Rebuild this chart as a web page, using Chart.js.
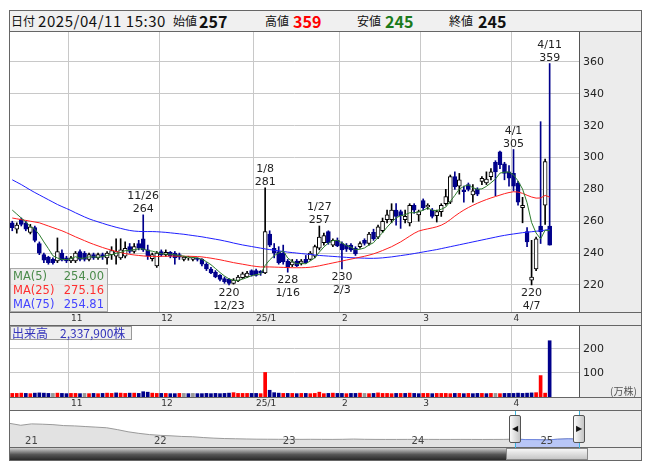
<!DOCTYPE html>
<html>
<head>
<meta charset="utf-8">
<script src="https://cdn.jsdelivr.net/npm/chart.js@4.4.1/dist/chart.umd.min.js"></script>
<style>
  body { margin: 0; background: #fff; }
  #stage { position: relative; width: 653px; height: 470px; overflow: hidden; }
  .abs { position: absolute; box-sizing: border-box; }
  #frame { left: 9px; top: 10px; width: 633px; height: 451px; background: #ececec; border: 1px solid #666; }
  #head { left: 9px; top: 10px; width: 633px; height: 22px; background: #f0f0f0; border: 1px solid #666;
          font-family: "Noto Sans CJK JP", sans-serif; font-size: 12px; color: #111; }
  #head span { position: absolute; top: 0; line-height: 20px; white-space: nowrap; }
  #head .date { font-size: 15px; letter-spacing: 0.55px; }
  #head .num { font-weight: bold; font-size: 16px; }
  canvas { position: absolute; }
  .hline { position: absolute; left: 9px; width: 633px; height: 1px; background: #666; }
  .vline { position: absolute; width: 1px; background: #555; }
  #maBox { left: 10px; top: 268px; width: 98px; height: 44px; background: rgba(234,234,234,0.85);
           border: 1px solid #aaa; font: 11.5px "DejaVu Sans", sans-serif; }
  #maBox div { position: relative; height: 14px; line-height: 14px; padding-left: 2px; }
  #maBox div span { position: absolute; right: 3px; }
  #volBox { left: 10px; top: 326px; width: 122px; height: 14px; background: #eeeeee; border: 1px solid #999;
            font: 12px "Noto Sans CJK JP", sans-serif; line-height: 12px; color: #3333bb; padding-left: 1px; white-space: nowrap; }
  #unit { left: 610px; top: 383px; font: 10px "Noto Sans CJK JP", sans-serif; color: #555; }
  .handle { top: 415px; width: 12px; height: 28px; border: 1px solid #555; border-radius: 2px;
            background: linear-gradient(to right, #fafafa, #c4c4c4); font-size: 8px; line-height: 26px;
            text-align: center; color: #111; }
  .cyan { top: 411px; width: 1px; height: 37px; background: #3cb4dc; }
  #track { left: 10px; top: 448px; width: 496px; height: 12px; background: linear-gradient(#d0d0d0, #555 55%, #2a2a2a); }
  #thumb { left: 506px; top: 448px; width: 82px; height: 12px; border: 1px solid #888;
           background: linear-gradient(#f6f6f6, #c6c6c6); }
</style>
</head>
<body>
<div id="stage">
  <div id="frame" class="abs"></div>
  <div id="head" class="abs">
    <span style="left:1px">日付</span><span class="date" style="left:28px">2025/04/11 15:30</span>
    <span style="left:163px">始値</span><span class="num" style="left:189px">257</span>
    <span style="left:255px">高値</span><span class="num" style="left:283px;color:#ff0000">359</span>
    <span style="left:347px">安値</span><span class="num" style="left:375px;color:#1a7a1a">245</span>
    <span style="left:439px">終値</span><span class="num" style="left:468px">245</span>
  </div>

  <canvas id="priceChart" width="631" height="293" style="left:10px;top:32px"></canvas>
  <canvas id="volChart" width="631" height="84" style="left:10px;top:326px"></canvas>
  <canvas id="navChart" width="631" height="36" style="left:10px;top:411px"></canvas>

  <div class="hline" style="top:312px"></div>
  <div class="hline" style="top:325px"></div>
  <div class="hline" style="top:397px"></div>
  <div class="hline" style="top:410px"></div>
  <div class="hline" style="top:447px"></div>
  <div class="vline" style="left:579px;top:32px;height:280px"></div>
  <div class="vline" style="left:579px;top:326px;height:71px"></div>
  <div class="vline" style="left:579px;top:411px;height:36px"></div>

  <div id="maBox" class="abs">
    <div style="color:#4b8b4b">MA(5)<span>254.00</span></div>
    <div style="color:#ff3030">MA(25)<span>275.16</span></div>
    <div style="color:#4444ff">MA(75)<span>254.81</span></div>
  </div>
  <div id="volBox" class="abs">出来高　2,337,900株</div>
  <div id="unit" class="abs">(万株)</div>

  <div class="abs cyan" style="left:515px"></div>
  <div class="abs cyan" style="left:579px"></div>
  <div class="abs handle" style="left:509px">&#9664;</div>
  <div class="abs handle" style="left:573px">&#9654;</div>
  <div id="track" class="abs"></div>
  <div id="thumb" class="abs"></div>
</div>

<script>
const dates = [
  "10/15","10/16","10/17","10/18","10/21","10/22","10/23","10/24","10/25","10/28","10/29","10/30","10/31",
  "11/1","11/5","11/6","11/7","11/8","11/11","11/12","11/13","11/14","11/15","11/18","11/19","11/20","11/21","11/22","11/25","11/26","11/27","11/28","11/29",
  "12/2","12/3","12/4","12/5","12/6","12/9","12/10","12/11","12/12","12/13","12/16","12/17","12/18","12/19","12/20","12/23","12/24","12/25","12/26","12/27","12/30",
  "1/6","1/7","1/8","1/9","1/10","1/14","1/15","1/16","1/17","1/20","1/21","1/22","1/23","1/24","1/27","1/28","1/29","1/30","1/31",
  "2/3","2/4","2/5","2/6","2/7","2/10","2/12","2/13","2/14","2/17","2/18","2/19","2/20","2/21","2/25","2/26","2/27","2/28",
  "3/3","3/4","3/5","3/6","3/7","3/10","3/11","3/12","3/13","3/14","3/17","3/18","3/19","3/21","3/24","3/25","3/26","3/27","3/28","3/31",
  "4/1","4/2","4/3","4/4","4/7","4/8","4/9","4/10","4/11"
];

const opens = [
  259,255,261,259,253,256,246,239,237.5,236,235,240,237,
  235,235,241,240,236,239,237,239,237,239,238,237,238,244,241,246,249,242,236.5,232,
  241,239,240.5,240,239,236,237,236,236.5,236,233,230,228,226,224,223.5,221,222.5,224.5,225,229,
  229,228.5,227.5,252,243,241,240,235,232.5,235,233.5,236,236,238,243,246.5,253.5,245,248,
  246,245,245,243,244,248,246,253,250,254,261,261,267,266,261,259,270,264,
  273,269,267,263.5,266,271,272,288,282,279.5,283,276.5,280,285,284,288,297,303.5,296,291,
  290,284,268.5,253.5,223,230,257,270,257
];
const highs = [
  260,259,262,260,258,257,247,240,238,237,249.5,242,238,
  238,241,242,241,240,240,240,240,241,244,249,249,247,246,246,248,264,245,240,241,
  242,242,241,241,240,238,238,237.5,237,236.5,234,231,229,226.5,225,224,224,226,228,228.5,229.5,
  230,229,281,254,246,244,245,236,236,236,236,238.5,241,245,257,252.5,254,249,249.5,
  247,246,246,244,247,249,253,255,257.5,262,267,271,271,267,267,271,271,267,
  274,271,268,267,271,280,289,291,290,282,284,283,281,288,291,293,298,304,297,295,
  305,285,275,256,248,250,322.5,299,359
];
const lows = [
  254,252.5,257,254,252,247,239,234,233,233,234,235,234,
  234,234,235,235,235,236,236,236,233,236,233,236,237,240,240,242,241,236,235,231,
  238,238,237,233,236,235,235.5,235,235,232,229,227,224.5,222.5,221,220,220.5,222,224,224.5,225.5,
  225.5,226,227,244,237,233,233,228,231.5,231.5,232.5,233.5,235.5,237,242,245,245.5,244,244,
  230,241,241,238.5,243,245,245,248,249,253,259,259,257.5,255.5,259,257,265,260,
  267,267.5,262,259.5,263,270,271,280,277,272,279,272,276,283,283,286,276,293,286,282,
  279,270,259,244,220,229,246,258,245
];
const closes = [
  256,257.5,258,255,256.5,248,240,235.5,234,234,241,235.5,235,
  237,240,236,236,239,237,239,237.5,240,241.5,241,242,243,241,244,243,242,238,239,240,
  239,240.5,238,237,237.5,237.5,237,237,236,233,230,227.5,225,223.5,222,221,223,225,227,227.5,226.5,
  226,227.5,253.5,245,240,234,234.5,231,234.5,232,235,234,240,244,250,251,246.5,248,244.5,
  242,242.5,242,239.5,246,246,252,249,256.5,260,264,267,263,263.5,263,270,267,266,
  268.5,270,263,266,270,275.5,288,281.5,286,278.5,280,279,277,287,286.5,291,291,295.5,290,287,
  282,272,270,247,225,249,253.5,297.5,245
];

// moving averages as drawn on the chart (yen)
const ma5 = [
  267,264.5,262,259.5,256.6,255,251.5,247,242.8,238.3,236.9,236,235.9,
  236.5,237.7,236.7,236.8,237.6,237.6,237.4,237.7,238.5,239,239.8,240.4,241.5,241.7,242.2,242.6,242.6,241.6,241.2,240.4,
  239.6,239.3,239.3,238.9,238.4,238.1,237.4,237.2,237,236.1,234.6,232.7,230.3,227.8,225.6,223.8,222.9,222.9,223.6,224.7,225.8,
  226.4,226.9,232.2,235.7,238.4,240,241.4,236.9,234.8,233.2,233.4,233.3,235.1,237,240.6,243.8,246.3,247.9,248,
  246.4,244.7,243.8,242.1,242.4,243.2,245.1,246.5,249.9,252.7,256.3,259.3,262.1,263.5,264.1,265.3,265.3,265.9,
  266.9,268.3,266.9,266.7,267.5,268.9,272.5,276.2,280.2,281.9,282.8,281,280.1,280.3,281.9,284.1,286.5,290.2,290.8,290.9,
  289.1,285.3,280.2,271.6,259.2,252.6,248.9,254.4,254
];
const ma25 = [
  262,261.5,261,260.5,260,259.5,259,258,257,256,255,254,252.8,
  251.5,250.2,249,247.8,246.6,245.5,244.5,243.5,242.6,241.8,241,240.3,239.7,239.2,238.8,238.5,238.2,238,237.9,237.8,
  238,238,238.1,238.1,238.1,238,238,237.9,237.8,237.6,237.2,236.8,236.3,235.8,235.2,234.6,234,233.5,233,232.5,232,
  231.6,231.3,231.3,231.3,231.2,231.1,231,230.9,230.8,230.8,230.8,230.9,231.1,231.5,232,232.6,233.2,233.8,234.4,
  235,235.6,236.2,236.8,237.4,238,238.7,239.5,240.5,241.6,242.8,244,245.5,247,248.8,250.6,252.4,253.8,
  254.6,255.2,255.8,256.5,257.5,259,261,263.2,265.2,267,268.6,270,271.3,272.5,273.6,274.6,275.5,276.4,277.3,278,
  278.5,278.3,277.5,276.3,275.2,274.5,274.6,276.2,275.16
];
const ma75 = [
  286,284.5,283,281.3,279.6,278,276.5,275,273.5,272,270.5,269.2,268,
  266.7,265.3,264,262.7,261.5,260.5,259.6,258.7,257.8,257,256.2,255.5,254.8,254.2,253.8,253.6,253.5,253.5,253.5,253.4,
  253.2,253,252.7,252.4,252.1,251.8,251.4,251,250.6,250.2,249.7,249.2,248.7,248.2,247.6,247,246.3,245.7,245.1,244.6,244.1,
  243.6,243.1,242.6,242.2,241.8,241.4,241,240.6,240.3,240,239.7,239.4,239.1,238.8,238.5,238.3,238.1,237.9,237.7,
  237.5,237.3,237.1,237,236.9,236.8,236.7,236.7,236.8,237,237.3,237.6,238,238.4,238.8,239.2,239.7,240.2,
  240.7,241.2,241.7,242.2,242.8,243.4,244,244.6,245.2,245.8,246.4,247,247.6,248.2,248.8,249.4,250,250.6,251.1,251.6,
  252,252.4,252.8,253.1,253.4,253.7,254,254.4,254.81
];

// volume, 10,000 shares
const volumes = [
  15,15,16,15,14,16,17,16,15,15,16,15,14,
  15,15,14,15,14,15,14,15,16,15,17,16,15,16,16,15,22,20,16,15,
  15,15,14,14,15,15,14,15,14,14,15,14,15,14,15,16,18,15,15,15,15,
  15,14,102,28,18,16,15,15,15,14,15,15,14,15,20,14,15,16,15,
  15,14,15,15,16,15,14,15,17,15,15,14,15,15,15,16,15,14,
  15,15,14,15,15,15,14,15,15,14,15,14,15,15,14,15,15,14,15,15,
  15,16,15,16,17,18,89,16,233.79
];

const priceTicks = [220, 240, 260, 280, 300, 320, 340, 360];
const volTicks = [100, 200];
const monthStarts = ["11/1", "12/2", "1/6", "2/3", "3/3", "4/1"];
const monthNames = ["11", "12", "25/1", "2", "3", "4"];
const peakNotes = ["11/26", "1/8", "1/27", "4/1", "4/11"];
const troughNotes = ["12/23", "1/16", "2/3", "4/7"];

// long-range navigator, monthly, 2020/11 .. 2025/04
const navMonths = [
  "20/11","20/12",
  "21/01","21/02","21/03","21/04","21/05","21/06","21/07","21/08","21/09","21/10","21/11","21/12",
  "22/01","22/02","22/03","22/04","22/05","22/06","22/07","22/08","22/09","22/10","22/11","22/12",
  "23/01","23/02","23/03","23/04","23/05","23/06","23/07","23/08","23/09","23/10","23/11","23/12",
  "24/01","24/02","24/03","24/04","24/05","24/06","24/07","24/08","24/09","24/10","24/11","24/12",
  "25/01","25/02","25/03","25/04"
];
const navValues = [
  760,700,
  745,735,720,690,680,660,640,620,560,490,440,400,
  375,360,340,330,305,285,272,265,258,252,250,248,
  247,246,248,246,245,248,256,248,245,244,244,245,
  246,245,244,244,245,244,243,244,245,256,240,238,
  228,250,265,250
];
const navSelectFrom = "24/10";
const navYears = ["21", "22", "23", "24", "25"];

const UP = "#000000";
const DOWN = "#00008b";
const emptySlots = ["", "", "", "", "", ""];
const labels = dates.concat(emptySlots);

Chart.defaults.font.family = '"DejaVu Sans", sans-serif';
Chart.defaults.animation = false;

const isUp = (i) => closes[i] >= opens[i];
const monthLabel = (i) => {
  const k = monthStarts.indexOf(labels[i]);
  return k >= 0 ? monthNames[k] : "";
};

// keep axes from reserving label overhang around the plot
const noOverhang = (s) => {
  s.paddingTop = 0;
  s.paddingBottom = 0;
  s.paddingLeft = 0;
  s.paddingRight = 0;
};

const whiteArea = {
  id: "whiteArea",
  beforeDraw(chart) {
    const { ctx, chartArea: a } = chart;
    ctx.save();
    ctx.fillStyle = "#ffffff";
    ctx.fillRect(a.left, a.top, a.right - a.left, a.bottom - a.top);
    ctx.restore();
  }
};

const notes = {
  id: "notes",
  afterDatasetsDraw(chart) {
    const { ctx, scales: { x, y } } = chart;
    ctx.save();
    ctx.font = '11px "DejaVu Sans"';
    ctx.fillStyle = "#222";
    ctx.textAlign = "center";
    peakNotes.forEach((d) => {
      const i = dates.indexOf(d);
      const px = x.getPixelForValue(i);
      const py = y.getPixelForValue(highs[i]);
      ctx.fillText(String(highs[i]), px, py - 3);
      ctx.fillText(d, px, py - 16);
    });
    troughNotes.forEach((d) => {
      const i = dates.indexOf(d);
      const px = x.getPixelForValue(i);
      const py = y.getPixelForValue(lows[i]);
      ctx.fillText(String(lows[i]), px, py + 11);
      ctx.fillText(d, px, py + 24);
    });
    ctx.restore();
  }
};

function monthAxis() {
  return {
    type: "category",
    offset: true,
    border: { display: false },
    grid: {
      offset: true,
      drawTicks: false,
      color: (c) => (monthLabel(c.index) ? "#c8c8c8" : "rgba(0,0,0,0)")
    },
    ticks: {
      autoSkip: false,
      maxRotation: 0,
      minRotation: 0,
      align: "start",
      padding: 1,
      color: "#333",
      font: { size: 9 },
      callback: (v, i) => monthLabel(i)
    },
    afterFit: (s) => { s.height = 13; noOverhang(s); }
  };
}

new Chart(document.getElementById("priceChart"), {
  data: {
    labels,
    datasets: [
      { type: "line", data: ma5, borderColor: "#2e7d2e", borderWidth: 1, pointRadius: 0, order: 0 },
      { type: "line", data: ma25, borderColor: "#ff2020", borderWidth: 1, pointRadius: 0, order: 0 },
      { type: "line", data: ma75, borderColor: "#2020ff", borderWidth: 1, pointRadius: 0, order: 0 },
      {
        type: "bar",
        data: opens.map((o, i) => [o, closes[i]]),
        grouped: false,
        barThickness: 4,
        minBarLength: 1,
        borderWidth: 1,
        borderSkipped: false,
        backgroundColor: opens.map((o, i) => (isUp(i) ? "#ffffff" : DOWN)),
        borderColor: opens.map((o, i) => (isUp(i) ? UP : DOWN)),
        order: 1
      },
      {
        type: "bar",
        data: lows.map((l, i) => [l, highs[i]]),
        grouped: false,
        barThickness: 1,
        borderWidth: 0,
        backgroundColor: lows.map((l, i) => (isUp(i) ? UP : DOWN)),
        order: 2
      }
    ]
  },
  options: {
    responsive: false,
    devicePixelRatio: 1,
    layout: { padding: 0, autoPadding: false },
    plugins: { legend: { display: false }, tooltip: { enabled: false } },
    scales: {
      x: monthAxis(),
      y: {
        position: "right",
        min: 203,
        max: 378.8,
        border: { display: false },
        grid: { color: "#c8c8c8", drawTicks: false },
        afterBuildTicks: (s) => { s.ticks = priceTicks.map((v) => ({ value: v })); },
        ticks: { padding: 4, color: "#222", font: { size: 11 } },
        afterFit: (s) => { s.width = 62; noOverhang(s); }
      }
    }
  },
  plugins: [whiteArea, notes]
});

new Chart(document.getElementById("volChart"), {
  type: "bar",
  data: {
    labels,
    datasets: [{
      data: volumes,
      barThickness: 3,
      backgroundColor: volumes.map((v, i) => {
        const prev = i === 0 ? closes[0] - 1 : closes[i - 1];
        if (closes[i] > prev) return "#ff0000";
        if (closes[i] < prev) return DOWN;
        return "#999999";
      })
    }]
  },
  options: {
    responsive: false,
    devicePixelRatio: 1,
    layout: { padding: 0, autoPadding: false },
    plugins: { legend: { display: false }, tooltip: { enabled: false } },
    scales: {
      x: monthAxis(),
      y: {
        position: "right",
        min: 0,
        max: 295,
        border: { display: false },
        grid: { color: "#c8c8c8", drawTicks: false },
        afterBuildTicks: (s) => { s.ticks = volTicks.map((v) => ({ value: v })); },
        ticks: { padding: 4, color: "#222", font: { size: 11 } },
        afterFit: (s) => { s.width = 62; noOverhang(s); }
      }
    }
  },
  plugins: [whiteArea]
});

const selFrom = navMonths.indexOf(navSelectFrom);
const yearLabels = {
  id: "yearLabels",
  afterDatasetsDraw(chart) {
    const { ctx, scales: { x } } = chart;
    ctx.save();
    ctx.font = '10px "DejaVu Sans"';
    ctx.fillStyle = "#444";
    ctx.textAlign = "center";
    navYears.forEach((yy) => {
      const i = navMonths.indexOf(yy + "/01");
      ctx.fillText(yy, x.getPixelForValue(i), 33);
    });
    ctx.restore();
  }
};

new Chart(document.getElementById("navChart"), {
  type: "line",
  data: {
    labels: navMonths,
    datasets: [
      {
        data: navValues.map((v, i) => (i >= selFrom ? v : null)),
        borderColor: "#6f86e0",
        borderWidth: 1,
        backgroundColor: "#b8c6f6",
        fill: "origin",
        pointRadius: 0,
        spanGaps: false
      },
      {
        data: navValues,
        borderColor: "#9a9a9a",
        borderWidth: 1,
        backgroundColor: "#e2e2e2",
        fill: "origin",
        pointRadius: 0
      }
    ]
  },
  options: {
    responsive: false,
    devicePixelRatio: 1,
    layout: { padding: { left: 0, right: 62, top: 0, bottom: 0 }, autoPadding: false },
    plugins: { legend: { display: false }, tooltip: { enabled: false } },
    scales: {
      x: { display: false, offset: false },
      y: { display: false, min: 0, max: 1160 }
    }
  },
  plugins: [whiteArea, yearLabels]
});
</script>
</body>
</html>
